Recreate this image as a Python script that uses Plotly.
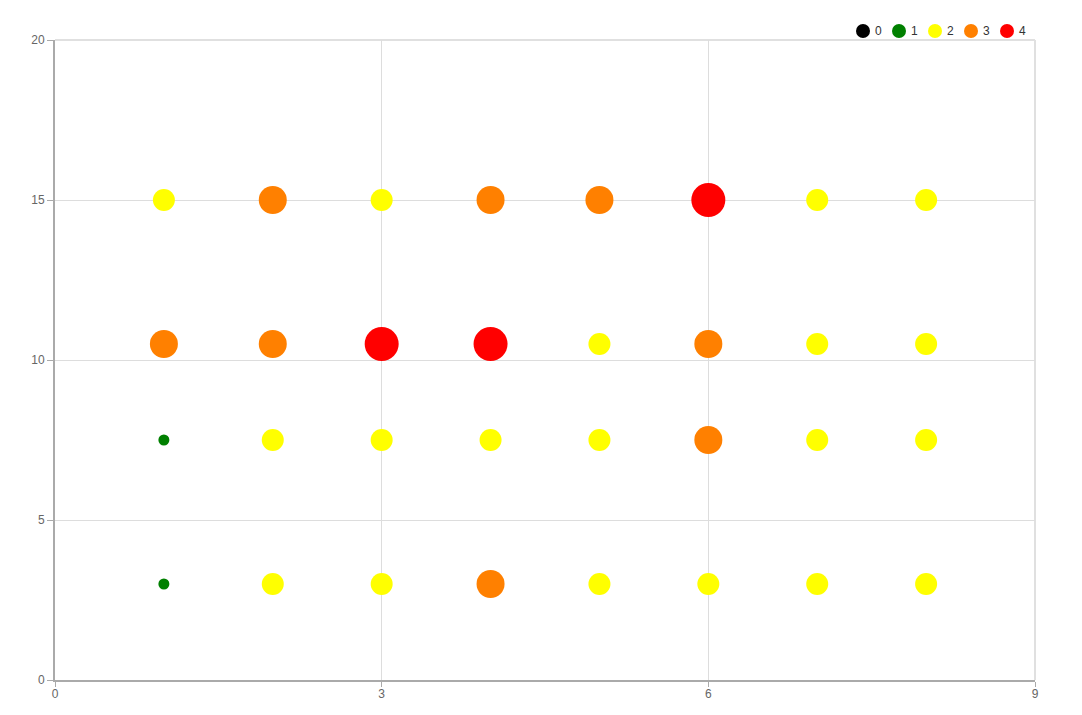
import plotly.graph_objects as go

x_positions = [1, 2, 3, 4, 5, 6, 7, 8]
row_y = [15, 10.5, 7.5, 3]
row_levels = [
    [2, 3, 2, 3, 3, 4, 2, 2],
    [3, 3, 4, 4, 2, 3, 2, 2],
    [1, 2, 2, 2, 2, 3, 2, 2],
    [1, 2, 2, 3, 2, 2, 2, 2],
]
levels = [0, 1, 2, 3, 4]
level_colors = ["#000000", "#008000", "#ffff00", "#ff8000", "#ff0000"]
level_sizes = [6, 11, 22, 28, 34]

# page body has an 8px margin; compensate so plot area sits at x 55..1035, y 40..680
BODY = 8
W, H = 1082, 715
ML, MR, MT, MB = 55, 47, 40, 35
plot_w = W - ML - MR
plot_h = H - MT - MB

fig = go.Figure()
for lv in levels:
    xs, ys = [], []
    for yv, row in zip(row_y, row_levels):
        for xv, l in zip(x_positions, row):
            if l == lv:
                xs.append(xv)
                ys.append(yv)
    if not xs:
        continue
    fig.add_trace(go.Scatter(
        x=xs, y=ys, mode="markers", name=str(lv), showlegend=False,
        marker=dict(color=level_colors[lv], size=level_sizes[lv], line=dict(width=0), opacity=1),
        hoverinfo="x+y+name",
    ))

# custom legend (top right), items 36px apart
legend_first_px = 863
legend_step_px = 36
legend_y_px = 31
shapes = []
annotations = []
for i, lv in enumerate(levels):
    cx = (legend_first_px + i * legend_step_px - ML) / plot_w
    cy = 1 + (MT - legend_y_px) / plot_h
    shapes.append(dict(type="circle", xref="paper", yref="paper",
                       xsizemode="pixel", ysizemode="pixel", xanchor=cx, yanchor=cy,
                       x0=-7, x1=7, y0=-7, y1=7,
                       fillcolor=level_colors[lv], line=dict(width=0)))
    annotations.append(dict(xref="paper", yref="paper", x=cx + 10 / plot_w, y=cy,
                            text=str(lv), showarrow=False, xanchor="left", yanchor="middle",
                            font=dict(color="#333333", size=12)))

# light border on top and right (grid at range ends)
shapes.append(dict(type="line", xref="paper", yref="paper", x0=0, x1=1, y0=1, y1=1,
                   line=dict(color="#e0e0e0", width=2), layer="below"))
shapes.append(dict(type="line", xref="paper", yref="paper", x0=1, x1=1, y0=0, y1=1,
                   line=dict(color="#e0e0e0", width=2), layer="below"))

fig.update_layout(
    width=W, height=H,
    margin=dict(l=ML - BODY, r=MR + BODY, t=MT - BODY, b=MB + BODY, autoexpand=False),
    paper_bgcolor="white", plot_bgcolor="white",
    font=dict(family="Liberation Sans, Arial, sans-serif", size=12, color="#666666"),
    showlegend=False,
    shapes=shapes, annotations=annotations,
)
fig.update_xaxes(range=[0, 9], tickvals=[0, 3, 6, 9], showgrid=True, gridcolor="#dddddd",
                 showline=True, linecolor="#aaaaaa", linewidth=2, automargin=False,
                 ticks="outside", ticklen=5, tickcolor="#aaaaaa", tickwidth=1, zeroline=False,
                 ticklabelstandoff=-3)
fig.update_yaxes(range=[0, 20], tickvals=[0, 5, 10, 15, 20], showgrid=True, gridcolor="#dddddd",
                 showline=True, linecolor="#aaaaaa", linewidth=2, automargin=False,
                 ticks="outside", ticklen=6, tickcolor="#aaaaaa", tickwidth=1, zeroline=False)

fig.write_html("out.html")
